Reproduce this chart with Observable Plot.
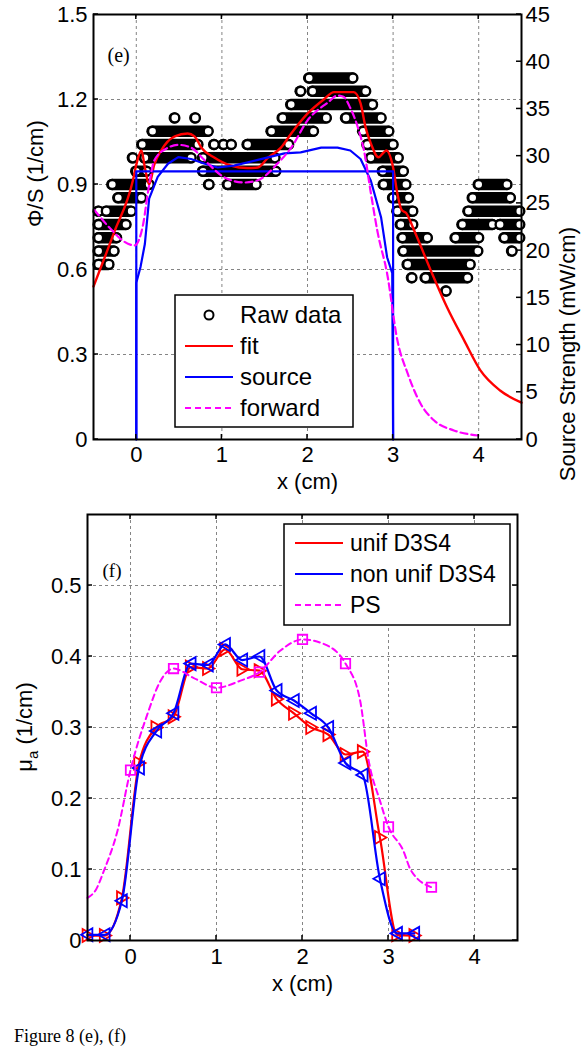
<!DOCTYPE html>
<html><head><meta charset="utf-8">
<script src="https://cdn.jsdelivr.net/npm/d3@7"></script>
<script src="https://cdn.jsdelivr.net/npm/@observablehq/plot@0.6"></script>
<style>
html,body{margin:0;padding:0;background:#fff;overflow:hidden;}
#wrap{position:relative;width:583px;height:1050px;}
#top{position:absolute;left:0;top:0;}
#bot{position:absolute;left:0;top:505px;}
#cap{position:absolute;left:14px;top:1026px;font:18px "Liberation Serif","Times New Roman",serif;line-height:20px;color:#000;}
</style></head><body>
<div id="wrap"><div id="top"></div><div id="bot"></div><div id="cap">Figure 8 (e), (f)</div></div>
<script>
// ---------- shared ticks ----------
const xTicks = [0, 1, 2, 3, 4];
const phiTicks = [0, 0.3, 0.6, 0.9, 1.2, 1.5];
const srcTicks = [0, 5, 10, 15, 20, 25, 30, 35, 40, 45];
const muTicks = [0, 0.1, 0.2, 0.3, 0.4, 0.5];
const SRC_PER_PHI = 30; // right axis 45 mW/cm <-> left axis 1.5

// ---------- panel (e): raw data runs [level, xStart, xEnd] ----------
const rawRuns = [
  [1.276, 2.02, 2.53],
  [1.229, 1.92, 1.92], [1.229, 2.06, 2.68],
  [1.182, 1.81, 2.76],
  [1.135, 0.45, 0.45], [1.135, 0.69, 0.69], [1.135, 1.71, 2.22], [1.135, 2.45, 2.86],
  [1.088, 0.19, 0.84], [1.088, 1.58, 2.07], [1.088, 2.65, 2.95],
  [1.041, 0.07, 0.72], [1.041, 0.91, 0.91], [1.041, 1.02, 1.02], [1.041, 1.11, 1.11], [1.041, 1.30, 1.78], [1.041, 2.70, 3.00],
  [0.994, -0.04, -0.04], [0.994, 0.10, 0.64], [0.994, 0.78, 1.62], [0.994, 2.74, 3.06],
  [0.947, 0.00, 0.12], [0.947, 0.78, 1.63], [0.947, 2.88, 3.12],
  [0.900, -0.28, 0.15], [0.900, 0.85, 0.85], [0.900, 1.07, 1.40], [0.900, 2.89, 3.15], [0.900, 4.00, 4.33],
  [0.853, -0.21, 0.06], [0.853, 3.00, 3.18], [0.853, 3.93, 4.37],
  [0.806, -0.44, -0.44], [0.806, -0.35, -0.06], [0.806, 3.05, 3.23], [0.806, 3.88, 4.48],
  [0.759, -0.44, -0.12], [0.759, 3.09, 3.23], [0.759, 3.81, 4.16], [0.759, 4.25, 4.48],
  [0.712, -0.44, -0.23], [0.712, 3.11, 3.40], [0.712, 3.73, 4.00], [0.712, 4.30, 4.48],
  [0.665, -0.44, -0.26], [0.665, 3.12, 3.99], [0.665, 4.39, 4.39],
  [0.618, -0.44, -0.32], [0.618, 3.17, 3.90],
  [0.571, 3.22, 3.22], [0.571, 3.38, 3.87],
  [0.524, 3.62, 3.62]
];

// fit (Phi/S, 1/cm)
const fitX = [-0.5, -0.26, -0.04, 0.0, 0.06, 0.10, 0.15, 0.21, 0.29, 0.45, 0.6, 0.68, 0.76, 0.91, 1.1, 1.3, 1.42, 1.54, 1.69, 1.81, 2.0, 2.19, 2.31, 2.54, 2.62, 2.68, 2.74, 2.83, 2.89, 2.92, 3.0, 3.05, 3.1, 3.15, 3.25, 3.44, 3.63, 3.83, 4.02, 4.25, 4.5];
const fitY = [0.54, 0.73, 0.914, 0.97, 1.02, 0.96, 0.90, 0.97, 1.02, 1.07, 1.08, 1.07, 1.03, 0.995, 0.967, 0.958, 0.96, 0.995, 1.03, 1.08, 1.15, 1.20, 1.226, 1.226, 1.186, 1.10, 1.045, 0.996, 1.013, 1.02, 0.96, 0.868, 0.81, 0.80, 0.735, 0.597, 0.467, 0.35, 0.244, 0.173, 0.13];

// source (mW/cm, right axis): step and reconstructed curve
const stepX = [0, 0, 3, 3];
const stepS = [0, 28.4, 28.4, 0];
const srcX = [0, 0, 0.05, 0.1, 0.15, 0.25, 0.37, 0.49, 0.64, 0.8, 0.95, 1.14, 1.42, 1.73, 1.92, 2.16, 2.35, 2.5, 2.62, 2.74, 2.86, 2.93, 2.99, 3.0];
const srcS = [0, 16.6, 18.3, 20.7, 25.5, 27.8, 29.2, 29.9, 29.7, 29.2, 28.8, 29.0, 29.6, 30.3, 30.4, 30.9, 30.9, 30.6, 29.7, 27.4, 23.5, 19.3, 17.6, 0];

// forward (Phi/S)
const fwdX = [-0.49, -0.29, -0.15, -0.02, 0.08, 0.14, 0.21, 0.37, 0.49, 0.64, 0.8, 1.03, 1.26, 1.42, 1.65, 1.81, 2.0, 2.24, 2.35, 2.42, 2.5, 2.59, 2.66, 2.74, 2.82, 2.93, 3.05, 3.17, 3.32, 3.48, 3.71, 4.0];
const fwdY = [0.81, 0.74, 0.70, 0.685, 0.76, 0.88, 0.985, 1.03, 1.04, 1.03, 0.985, 0.925, 0.907, 0.915, 0.974, 1.03, 1.126, 1.19, 1.214, 1.21, 1.17, 1.10, 1.02, 0.87, 0.73, 0.586, 0.35, 0.233, 0.127, 0.067, 0.032, 0.014];

const topLegendLabels = ["Raw data", "fit", "source", "forward"];

// ---------- panel (f) ----------
const recX = [-0.5, -0.3, -0.1, 0.1, 0.3, 0.5, 0.7, 0.9, 1.1, 1.3, 1.5, 1.7, 1.9, 2.1, 2.3, 2.5, 2.7, 2.9, 3.1, 3.3];
const unifY = [0.007, 0.007, 0.06, 0.25, 0.30, 0.315, 0.385, 0.383, 0.41, 0.382, 0.38, 0.34, 0.32, 0.30, 0.29, 0.262, 0.266, 0.145, 0.008, 0.007];
const nonUnifY = [0.008, 0.008, 0.056, 0.243, 0.295, 0.32, 0.39, 0.388, 0.417, 0.395, 0.40, 0.352, 0.338, 0.32, 0.30, 0.25, 0.233, 0.087, 0.01, 0.01];
const psX = [0, 0.5, 1, 1.5, 2, 2.5, 3, 3.5];
const psY = [0.24, 0.383, 0.356, 0.378, 0.424, 0.39, 0.16, 0.075];
const psLineX = [-0.5, -0.4, -0.31, -0.15, 0, 0.2, 0.35, 0.5, 0.73, 1.0, 1.28, 1.5, 1.74, 2.0, 2.24, 2.5, 2.67, 2.77, 2.9, 3.0, 3.17, 3.26, 3.5];
const psLineY = [0.06, 0.072, 0.098, 0.155, 0.24, 0.32, 0.366, 0.383, 0.37, 0.356, 0.366, 0.378, 0.408, 0.424, 0.418, 0.39, 0.338, 0.253, 0.197, 0.16, 0.127, 0.099, 0.075];
const botLegendLabels = ["unif D3S4", "non unif D3S4", "PS"];

// ---------- styles ----------
const RED = "#ff0000", BLUE = "#0000ff", MAG = "#ff00ff";
const FONT = "'Liberation Sans', Arial, Helvetica, sans-serif";
const SERIF = "'Liberation Serif', 'Times New Roman', serif";
const gridStyle = {stroke: "#666", strokeOpacity: 1, strokeDasharray: "3,3", strokeWidth: 0.8};
const fmt1 = d => d === 0 ? "0" : d.toFixed(1);

const zip = (xs, ys, k = "y") => xs.map((x, i) => ({x, [k]: ys[i]}));
const runs = rawRuns.map(([y, x1, x2]) => ({y, x1, x2}));
const runEnds = runs.flatMap(r => r.x1 === r.x2 ? [{x: r.x1, y: r.y}] : [{x: r.x1, y: r.y}, {x: r.x2, y: r.y}]);

const triRight = {draw(ctx, size) { const r = Math.sqrt(size / Math.PI); ctx.moveTo(r, 0); ctx.lineTo(-r * 0.75, -r); ctx.lineTo(-r * 0.75, r); ctx.closePath(); }};
const triLeft = {draw(ctx, size) { const r = Math.sqrt(size / Math.PI); ctx.moveTo(-r, 0); ctx.lineTo(r * 0.75, -r); ctx.lineTo(r * 0.75, r); ctx.closePath(); }};

function inwardTicks(svg, {xT, leftT, rightT, len = 5}) {
  const sx = svg.scale("x"), sy = svg.scale("y");
  const [xl, xr] = sx.range, [yb, yt] = sy.range;
  const g = d3.select(svg).append("g").attr("stroke", "black").attr("stroke-width", 1.5);
  for (const v of xT) {
    const p = sx.apply(v);
    g.append("line").attr("x1", p).attr("x2", p).attr("y1", yb).attr("y2", yb - len);
    g.append("line").attr("x1", p).attr("x2", p).attr("y1", yt).attr("y2", yt + len);
  }
  for (const v of leftT) { const p = sy.apply(v); g.append("line").attr("x1", xl).attr("x2", xl + len).attr("y1", p).attr("y2", p); }
  for (const v of rightT) { const p = sy.apply(v); g.append("line").attr("x1", xr).attr("x2", xr - len).attr("y1", p).attr("y2", p); }
}

function drawLegend(svg, box, items, lineX1, lineX2, textX, fontSize) {
  const g = d3.select(svg).append("g");
  g.append("rect").attr("x", box.x).attr("y", box.y).attr("width", box.w).attr("height", box.h)
    .attr("fill", "white").attr("stroke", "black").attr("stroke-width", 1.5);
  for (const it of items) {
    if (it.type === "circle") {
      g.append("circle").attr("cx", (lineX1 + lineX2) / 2).attr("cy", it.y).attr("r", 4.5)
        .attr("fill", "none").attr("stroke", it.color).attr("stroke-width", 2);
    } else {
      g.append("line").attr("x1", lineX1).attr("x2", lineX2).attr("y1", it.y).attr("y2", it.y)
        .attr("stroke", it.color).attr("stroke-width", 2.2).attr("stroke-dasharray", it.dash || null);
    }
    g.append("text").attr("x", textX).attr("y", it.y).attr("dy", "0.35em").attr("text-anchor", "start")
      .attr("font-family", FONT).attr("font-size", fontSize).attr("fill", "black").text(it.label);
  }
}

// ---------- panel (e) ----------
const topPlot = Plot.plot({
  width: 583, height: 505,
  marginTop: 14, marginRight: 62, marginBottom: 66, marginLeft: 93,
  style: {fontFamily: FONT, fontSize: "22px", color: "black", background: "white", overflow: "visible"},
  x: {domain: [-0.5, 4.5]},
  y: {domain: [0, 1.5]},
  marks: [
    Plot.gridX(xTicks, gridStyle),
    Plot.gridY(phiTicks.slice(1, -1), gridStyle),
    Plot.axisX(xTicks, {tickSize: 0, tickPadding: 7, tickFormat: d => String(d), label: null}),
    Plot.axisY(phiTicks, {tickSize: 0, tickPadding: 6, tickFormat: fmt1, label: null}),
    Plot.axisY(srcTicks.map(s => s / SRC_PER_PHI), {anchor: "right", tickSize: 0, tickPadding: 4, tickFormat: d => String(Math.round(d * SRC_PER_PHI)), label: null}),
    Plot.ruleY(runs, {y: "y", x1: "x1", x2: "x2", stroke: "black", strokeWidth: 11.5, strokeLinecap: "round"}),
    Plot.dot(runEnds, {x: "x", y: "y", r: 4.5, stroke: "black", strokeWidth: 2.4, fill: "white"}),
    Plot.line(zip(fitX, fitY), {x: "x", y: "y", stroke: RED, strokeWidth: 2.4, curve: "monotone-x"}),
    Plot.line(zip(stepX, stepS, "s"), {x: "x", y: d => d.s / SRC_PER_PHI, stroke: BLUE, strokeWidth: 2.2}),
    Plot.line(zip(srcX, srcS, "s"), {x: "x", y: d => d.s / SRC_PER_PHI, stroke: BLUE, strokeWidth: 2.2}),
    Plot.line(zip(fwdX, fwdY), {x: "x", y: "y", stroke: MAG, strokeWidth: 2.2, strokeDasharray: "7,4", curve: "monotone-x"}),
    Plot.frame({stroke: "black", strokeWidth: 2}),
    Plot.text(["(e)"], {text: d => d, frameAnchor: "top-left", dx: 14, dy: 33, textAnchor: "start", fontFamily: SERIF, fontSize: 20}),
    Plot.text(["x (cm)"], {text: d => d, frameAnchor: "bottom", dy: 49, fontSize: 22}),
    Plot.text(["Φ/S (1/cm)"], {text: d => d, frameAnchor: "left", dx: -58, rotate: -90, fontSize: 22}),
    Plot.text(["Source Strength (mW/cm)"], {text: d => d, frameAnchor: "right", dx: 46, rotate: -90, fontSize: 22})
  ]
});
inwardTicks(topPlot, {xT: xTicks, leftT: phiTicks, rightT: srcTicks.map(s => s / SRC_PER_PHI)});
drawLegend(topPlot, {x: 175, y: 295, w: 178, h: 132}, [
  {label: topLegendLabels[0], type: "circle", color: "black", y: 315},
  {label: topLegendLabels[1], color: RED, y: 346},
  {label: topLegendLabels[2], color: BLUE, y: 377},
  {label: topLegendLabels[3], color: MAG, dash: "6,4", y: 408}
], 185, 233, 240, 24);
document.getElementById("top").appendChild(topPlot);

// ---------- panel (f) ----------
const botPlot = Plot.plot({
  width: 583, height: 505,
  marginTop: 9, marginRight: 66, marginBottom: 70, marginLeft: 87,
  style: {fontFamily: FONT, fontSize: "22px", color: "black", background: "white", overflow: "visible"},
  x: {domain: [-0.5, 4.5]},
  y: {domain: [0, 0.6]},
  marks: [
    Plot.gridX(xTicks, gridStyle),
    Plot.gridY(muTicks.slice(1), gridStyle),
    Plot.axisX(xTicks, {tickSize: 0, tickPadding: 8, tickFormat: d => String(d), label: null}),
    Plot.axisY(muTicks, {tickSize: 0, tickPadding: 6, tickFormat: fmt1, label: null}),
    Plot.line(zip(recX, unifY), {x: "x", y: "y", stroke: RED, strokeWidth: 2.2, curve: "monotone-x"}),
    Plot.dot(zip(recX, unifY), {x: "x", y: "y", symbol: triRight, r: 6.5, stroke: RED, strokeWidth: 1.8, fill: "none"}),
    Plot.line(zip(recX, nonUnifY), {x: "x", y: "y", stroke: BLUE, strokeWidth: 2.2, curve: "monotone-x"}),
    Plot.dot(zip(recX, nonUnifY), {x: "x", y: "y", symbol: triLeft, r: 6.5, stroke: BLUE, strokeWidth: 1.8, fill: "none"}),
    Plot.line(zip(psLineX, psLineY), {x: "x", y: "y", stroke: MAG, strokeWidth: 2, strokeDasharray: "6,4", curve: "monotone-x"}),
    Plot.dot(zip(psX, psY), {x: "x", y: "y", symbol: "square", r: 5.3, stroke: MAG, strokeWidth: 1.8, fill: "none"}),
    Plot.frame({stroke: "black", strokeWidth: 2}),
    Plot.text(["(f)"], {text: d => d, frameAnchor: "top-left", dx: 15, dy: 49, textAnchor: "start", fontFamily: SERIF, fontSize: 19}),
    Plot.text(["x (cm)"], {text: d => d, frameAnchor: "bottom", dy: 50, fontSize: 22})
  ]
});
inwardTicks(botPlot, {xT: xTicks, leftT: muTicks, rightT: muTicks});
{
  const sy = botPlot.scale("y");
  const cy = (sy.range[0] + sy.range[1]) / 2;
  const t = d3.select(botPlot).append("text")
    .attr("transform", `translate(24,${cy}) rotate(-90)`)
    .attr("text-anchor", "middle").attr("dy", "0.35em")
    .attr("font-family", FONT).attr("font-size", 22).attr("fill", "black");
  t.append("tspan").text("μ");
  t.append("tspan").attr("dy", 6).attr("font-size", 15).text("a");
  t.append("tspan").attr("dy", -6).text(" (1/cm)");
}
drawLegend(botPlot, {x: 284, y: 19, w: 226, h: 101}, [
  {label: botLegendLabels[0], color: RED, y: 38},
  {label: botLegendLabels[1], color: BLUE, y: 69},
  {label: botLegendLabels[2], color: MAG, dash: "6,4", y: 100}
], 295, 343, 350, 23);
document.getElementById("bot").appendChild(botPlot);
</script></body></html>
